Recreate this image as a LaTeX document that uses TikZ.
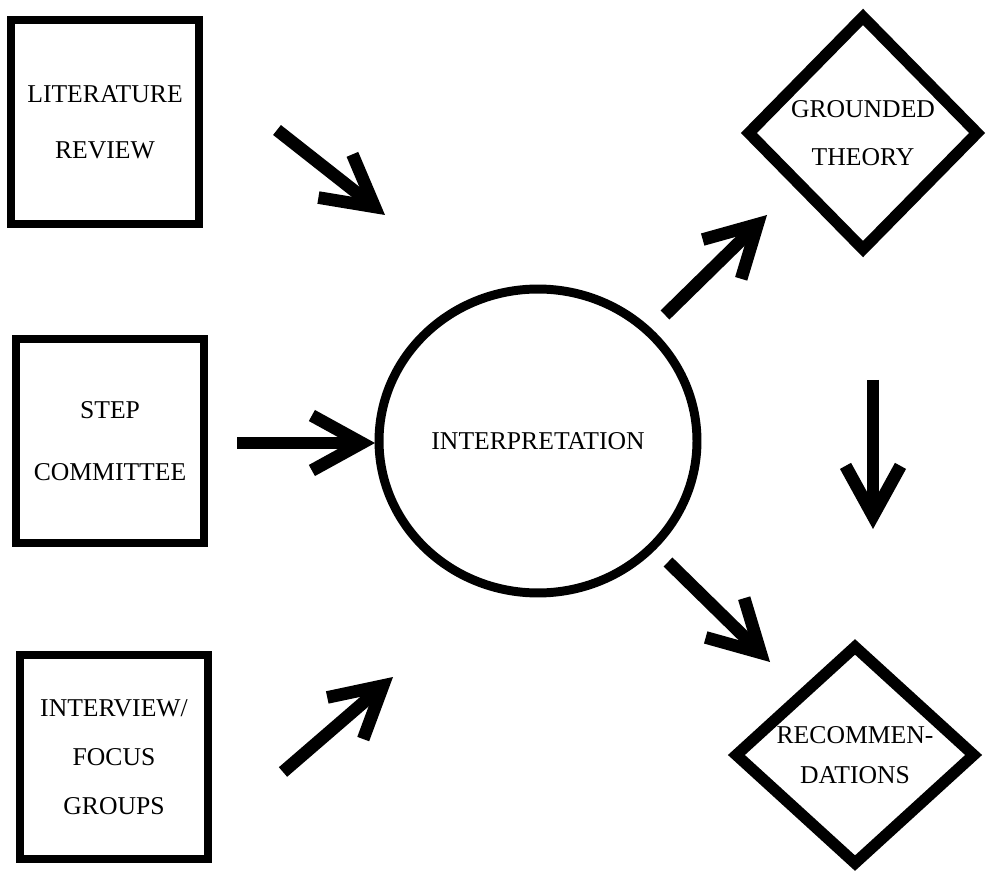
\documentclass[tikz,border=0pt]{standalone}
\usepackage{fontspec}
\setmainfont{Liberation Serif}
\usetikzlibrary{arrows.meta}
\usetikzlibrary{shapes.geometric}

\begin{document}
\begin{tikzpicture}[x=0.02cm, y=-0.02cm,
  srcbox/.style={draw, rectangle, line width=4.5pt, minimum width=3.76cm, minimum height=4.08cm, align=center},
  outbox/.style={draw, diamond, line width=6.5pt, align=center, inner sep=0pt},
  fatarrow/.style={line width=7.2pt, -{Straight Barb[length=1cm, width=1.1cm, line cap=butt, line join=miter]}}]

  \useasboundingbox (0,0) rectangle (990,881);

  \begin{scope}[xshift=0.0cm, yshift=0.0cm]

  \draw (105,122) node[srcbox, name=lit, font=\fontsize{14.6}{32}\selectfont] {LITERATURE\\REVIEW};
  \draw (110,441) node[srcbox, name=step, font=\fontsize{14.6}{35}\selectfont] {STEP\\COMMITTEE};
  \draw (114,757) node[srcbox, name=intv, font=\fontsize{14.6}{28}\selectfont] {INTERVIEW/\\FOCUS\\GROUPS};

  \draw (538,441) node[draw, ellipse, line width=5.1pt, minimum width=5.76cm, minimum height=6.08cm, name=interp, font=\fontsize{14.6}{18}\selectfont] {INTERPRETATION};

  \draw (863,133) node[outbox, minimum width=4.66cm, minimum height=4.74cm, name=theory, font=\fontsize{14.6}{27}\selectfont] {GROUNDED\\THEORY};
  \draw (855,755) node[outbox, minimum width=4.84cm, minimum height=4.42cm, name=recs, font=\fontsize{14.6}{23}\selectfont] {RECOMMEN-\\DATIONS};

  \coordinate (a1) at (277,130);
  \coordinate (b1) at (385,215);
  \coordinate (a2) at (237,443);
  \coordinate (b2) at (375,443);
  \coordinate (a3) at (283,772);
  \coordinate (b3) at (393,677);
  \coordinate (a4) at (665,315);
  \coordinate (b4) at (767,215);
  \coordinate (a5) at (668,562);
  \coordinate (b5) at (770,662);
  \coordinate (a6) at (873,380);
  \coordinate (b6) at (873,529);

  \draw [fatarrow] (a1) -- (b1);
  \draw [fatarrow] (a2) -- (b2);
  \draw [fatarrow] (a3) -- (b3);
  \draw [fatarrow] (a4) -- (b4);
  \draw [fatarrow] (a5) -- (b5);
  \draw [fatarrow] (a6) -- (b6);

  \end{scope}

\end{tikzpicture}
\end{document}
